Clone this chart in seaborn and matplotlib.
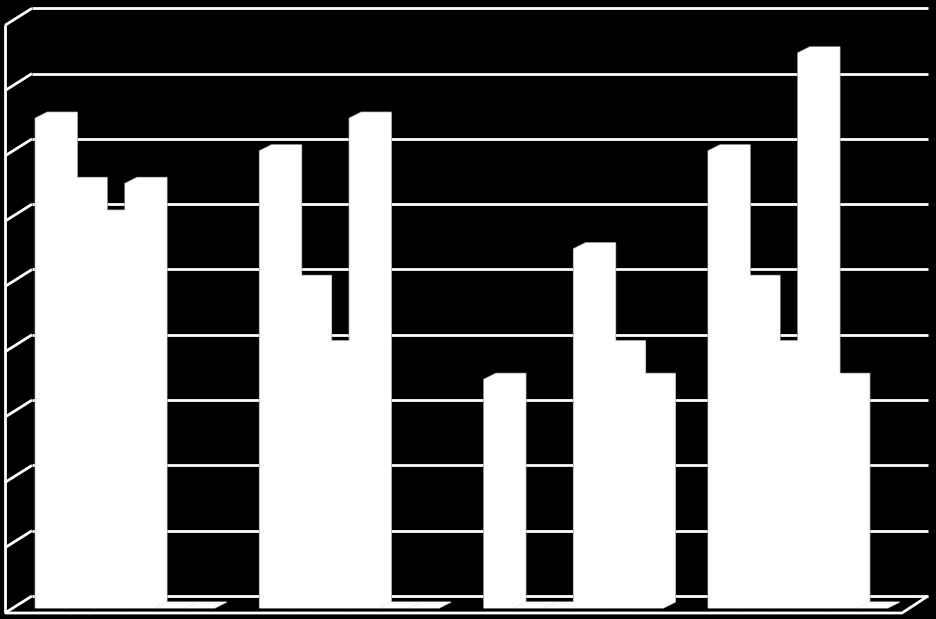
import numpy as np
import pandas as pd
import seaborn as sns
import matplotlib
matplotlib.use("Agg")
import matplotlib.pyplot as plt
from matplotlib.patches import Polygon

# values (gridline step = 1)
categories = ["Cat 1", "Cat 2", "Cat 3", "Cat 4"]
series_names = ["Series 1", "Series 2", "Series 3", "Series 4", "Series 5", "Series 6"]
series_1 = [7.5, 7.0, 3.5, 7.0]
series_2 = [6.5, 5.0, 0.0, 5.0]
series_3 = [6.0, 4.0, 0.0, 4.0]
series_4 = [6.5, 7.5, 5.5, 8.5]
series_5 = [0.0, 0.0, 4.0, 3.5]
series_6 = [0.0, 0.0, 3.5, 0.0]
y_ticks = list(range(0, 10))

# build long table for seaborn
rows = []
for name, vals in zip(series_names, [series_1, series_2, series_3, series_4, series_5, series_6]):
    for cat, v in zip(categories, vals):
        rows.append({"category": cat, "series": name, "value": v})
df = pd.DataFrame(rows)

# pixel layout of the fake 3d view
W, H = 937, 619
X0_PX, GROUP_PX = 125, 224.3   # centre of first group, spacing of groups
Y0_PX, UNIT_PX = 608, 65.3     # bar base line, pixels per unit
BAR_DEPTH = (12, 6)            # oblique offset of bar backs
WALL_BACK = (32, 596)          # back-left corner of floor
WALL_FRONT = (5, 613)          # front-left corner of floor
WALL_RIGHT = (928, 902)        # right end of back wall / front floor edge

def px2x(px):
    return (px - X0_PX) / GROUP_PX

def px2y(py):
    return (Y0_PX - py) / UNIT_PX

sns.set_style("white")
fig = plt.figure(figsize=(W / 100, H / 100), dpi=100, facecolor="black")
ax = fig.add_axes([0, 0, 1, 1])
ax.set_facecolor("black")

sns.barplot(data=df, x="category", y="value", hue="series", hue_order=series_names,
            palette=["white"] * 6, saturation=1, width=0.8, linewidth=0,
            legend=False, errorbar=None, ax=ax, zorder=2)

ax.set_xlim(px2x(0), px2x(W))
ax.set_ylim(px2y(H), px2y(0))

# walls: gridlines on the back wall and their diagonals on the left wall
back_dy = px2y(WALL_BACK[1])
front_dy = px2y(WALL_FRONT[1])
x_back_l, x_back_r = px2x(WALL_BACK[0]), px2x(WALL_RIGHT[0])
x_front_l, x_front_r = px2x(WALL_FRONT[0]), px2x(WALL_RIGHT[1])
line_kw = dict(color="white", lw=2.0, solid_capstyle="butt", zorder=1)
for k in y_ticks:
    ax.plot([x_back_l, x_back_r], [k + back_dy, k + back_dy], **line_kw)
    ax.plot([x_front_l, x_back_l], [k + front_dy, k + back_dy], **line_kw)
# left wall front edge and floor front edge
ax.plot([x_front_l, x_front_l], [front_dy, y_ticks[-1] + front_dy], **line_kw)
ax.plot([x_front_l, x_front_r, x_back_r], [front_dy, front_dy, back_dy], **line_kw)

# give every seaborn bar a depth: silhouette of the oblique box
ddx = BAR_DEPTH[0] / GROUP_PX
ddy = BAR_DEPTH[1] / UNIT_PX
for bar in list(ax.patches):
    x, w, h = bar.get_x(), bar.get_width(), bar.get_height()
    pts = [(x, 0), (x, h), (x + ddx, h + ddy), (x + w + ddx, h + ddy),
           (x + w + ddx, ddy), (x + w, 0)]
    ax.add_patch(Polygon(pts, closed=True, facecolor="white",
                         edgecolor="#9a9a9a", lw=1.0, zorder=3))
    ax.add_patch(Polygon(pts, closed=True, facecolor="white",
                         edgecolor="none", zorder=4))

ax.set_xticks([])
ax.set_yticks([])
ax.set_xlabel("")
ax.set_ylabel("")
for s in ax.spines.values():
    s.set_visible(False)

fig.savefig("out.png", dpi=100, facecolor="black")
